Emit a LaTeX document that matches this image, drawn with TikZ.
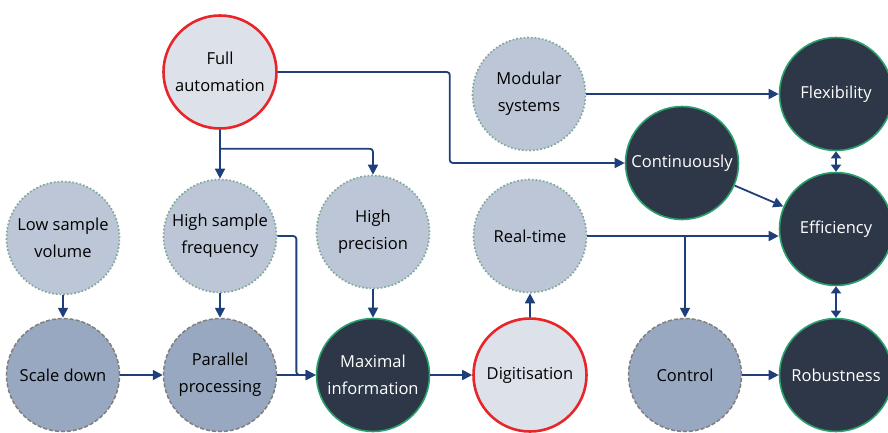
\documentclass[tikz,border=0pt]{standalone}
\usepackage{fontspec}
\setmainfont{Open Sans}
\usetikzlibrary{arrows.meta,positioning}
\definecolor{linkblue}{HTML}{1F3F7A}
\definecolor{keyred}{HTML}{E8262A}
\definecolor{keyfill}{HTML}{DDE2EA}
\definecolor{propfill}{HTML}{BCC6D6}
\definecolor{propline}{HTML}{7FA99B}
\definecolor{stepfill}{HTML}{98A8C0}
\definecolor{stepline}{HTML}{7F7F7F}
\definecolor{goalfill}{HTML}{2E3747}
\definecolor{goalline}{HTML}{2AA06C}
\tikzset{lnkarrow/.style={-{Triangle[length=10pt,width=10pt]}, line width=1.8pt, draw=linkblue, rounded corners=3pt}}
\tikzset{basenode/.style={circle, minimum size=113pt, inner sep=0pt, align=center, font=\fontsize{16.5}{27}\selectfont}}
\tikzset{keynode/.style={basenode, fill=keyfill, draw=keyred, line width=2.6pt}}
\tikzset{propnode/.style={basenode, fill=propfill, draw=propline, line width=1.7pt, dotted}}
\tikzset{stepnode/.style={basenode, fill=stepfill, draw=stepline, line width=1.5pt, dash pattern=on 4pt off 2pt}}
\tikzset{goalnode/.style={basenode, fill=goalfill, draw=goalline, line width=1.6pt, text=white}}

\begin{document}
\begin{tikzpicture}[x=1pt, y=-1pt]
\useasboundingbox (0,0) rectangle (888,432);
% causes and means
\node[keynode] (auto) at (220,72) {Full\\automation};
\node[propnode] (lowvol) at (63,238) {Low sample\\volume};
\node[propnode] (highfreq) at (220,236) {High sample\\frequency};
\node[propnode] (highprec) at (373,232) {High\\precision};
\node[propnode] (modular) at (529,94) {Modular\\systems};
\node[propnode] (realtime) at (530,236) {Real-time};
\node[stepnode] (scale) at (63,375) {Scale down};
\node[stepnode] (parallel) at (220,375) {Parallel\\processing};
\node[goalnode] (maxinfo) at (373,375) {Maximal\\information};
\node[keynode] (digit) at (530,375) {Digitisation};
\node[stepnode] (control) at (685,375) {Control};
% outcomes
\node[goalnode] (contin) at (682,163) {Continuously};
\node[goalnode] (flex) at (836,94) {Flexibility};
\node[goalnode] (effic) at (836,229) {Efficiency};
\node[goalnode] (robust) at (836,375) {Robustness};

\draw[lnkarrow] (auto.east) -- ++(172,0) |- (contin.west);
\draw[lnkarrow] (auto.south) -- (highfreq.north);
\draw[lnkarrow] (auto.south) ++(0,19) -| (highprec.north);
\draw[lnkarrow] (lowvol) -- (scale);
\draw[lnkarrow] (highfreq) -- (parallel);
\draw[lnkarrow] (highfreq.east) -- ++(19,0) |- (maxinfo.west);
\draw[lnkarrow] (scale) -- (parallel);
\draw[lnkarrow] (parallel) -- (maxinfo);
\draw[lnkarrow] (highprec) -- (maxinfo);
\draw[lnkarrow] (maxinfo) -- (digit);
\draw[lnkarrow] (digit) -- (realtime);
\draw[lnkarrow] (realtime.east) -- (realtime.east -| effic.west);
\draw[lnkarrow] (realtime.east -| control) -- (control);
\draw[lnkarrow] (control) -- (robust);
\draw[lnkarrow] (modular) -- (flex);
\draw[lnkarrow] (contin) -- (effic);
\draw[lnkarrow, {Triangle[length=7pt,width=10pt]}-{Triangle[length=7pt,width=10pt]}] (flex) -- (effic);
\draw[lnkarrow, {Triangle[length=7pt,width=10pt]}-{Triangle[length=7pt,width=10pt]}] (effic) -- (robust);
\end{tikzpicture}
\end{document}
